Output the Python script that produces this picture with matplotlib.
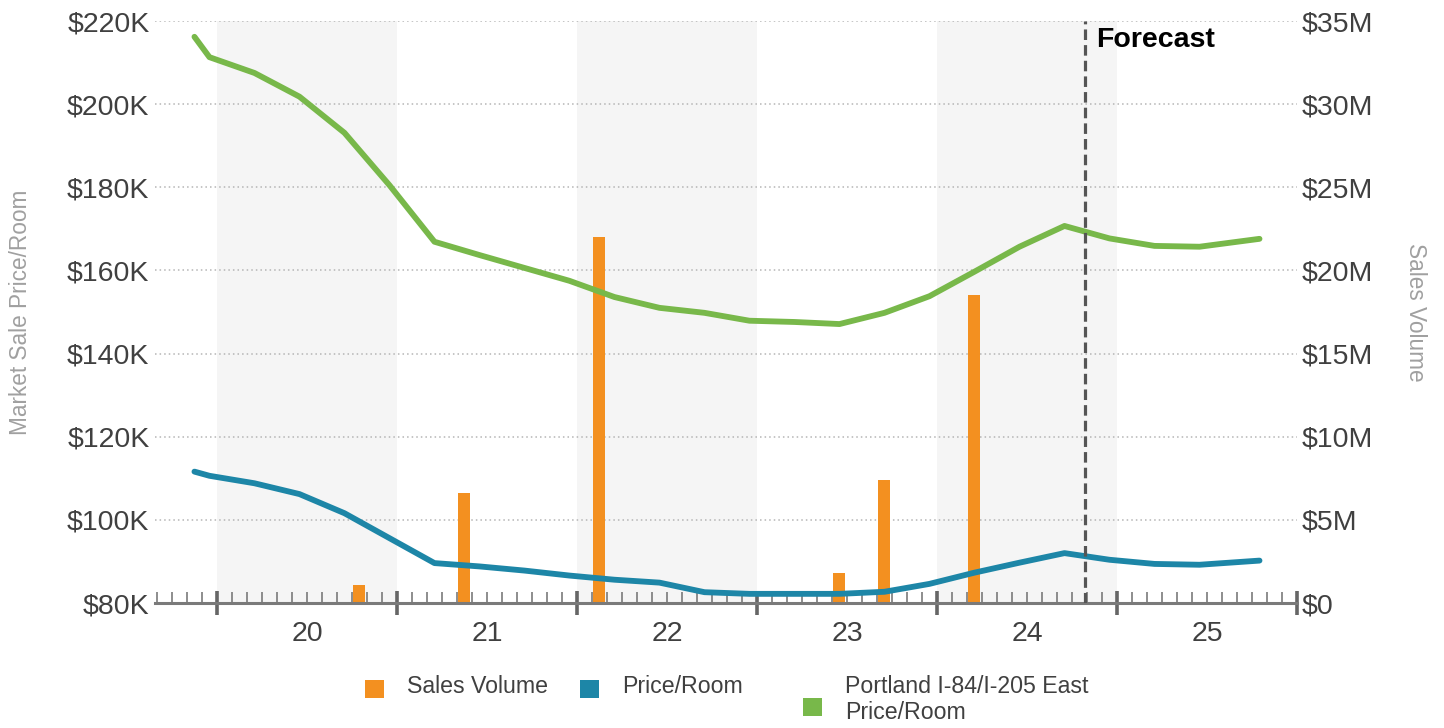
import matplotlib
matplotlib.use("Agg")
import matplotlib.pyplot as plt
import matplotlib.transforms as mtransforms
from matplotlib.patches import Rectangle
from matplotlib.ticker import FixedLocator, FuncFormatter

plt.rcParams['font.family'] = ['Liberation Sans', 'DejaVu Sans']

# x positions in months since Jan 2020
line_months = [-1.5, -0.5, 2.5, 5.5, 8.5, 11.5, 14.5, 17.5, 20.5, 23.5, 26.5, 29.5,
               32.5, 35.5, 38.5, 41.5, 44.5, 47.5, 50.5, 53.5, 56.5, 59.5, 62.5, 65.5, 69.5]

# Portland I-84/I-205 East Price/Room ($K)
submarket_price = [216.2, 211.3, 207.5, 201.8, 193.1, 180.5, 166.9, 163.7, 160.6, 157.5,
                   153.6, 151.0, 149.8, 147.9, 147.6, 147.1, 149.8, 153.8, 159.7, 165.7,
                   170.7, 167.7, 165.9, 165.7, 167.6]

# Price/Room ($K)
price_room = [111.6, 110.6, 108.8, 106.2, 101.6, 95.6, 89.6, 88.8, 87.8, 86.6,
              85.6, 84.9, 82.6, 82.2, 82.2, 82.2, 82.7, 84.6, 87.3, 89.7,
              92.0, 90.4, 89.4, 89.2, 90.2]

# Sales Volume ($M)
bar_months = [9.5, 16.5, 25.5, 41.5, 44.5, 50.5]
sales_volume = [1.1, 6.6, 22.0, 1.8, 7.4, 18.5]

years = ['20', '21', '22', '23', '24', '25']
year_starts = [0, 12, 24, 36, 48, 60]
forecast_month = 57.9

orange = '#F39020'
blue = '#1D86A7'
green = '#78B84A'
label_col = '#404040'
axis_col = '#7a7a7a'

fig = plt.figure(figsize=(14.44, 7.28), dpi=100)
ax2 = fig.add_axes([155 / 1444, 1 - 603 / 728, (1297 - 155) / 1444, (603 - 21) / 728])
ax = ax2.twinx()
ax.set_zorder(ax2.get_zorder() + 1)
ax.patch.set_visible(False)

xmin, xmax = -4.13, 72
ax2.set_xlim(xmin, xmax)
ax.set_xlim(xmin, xmax)

# shaded alternate years
for i, ys in enumerate(year_starts):
    if i % 2 == 0:
        ax2.axvspan(ys, ys + 12, color='#f5f5f5', lw=0, zorder=0)

# bars (right scale)
ax2.bar(bar_months, sales_volume, width=0.8, color=orange, zorder=2)
ax2.set_ylim(0, 35)
ax2.yaxis.tick_right()
ax2.yaxis.set_label_position('right')
ax2.set_yticks(range(0, 36, 5))
ax2.yaxis.set_major_formatter(FuncFormatter(lambda v, p: '$0' if v == 0 else f'${int(v)}M'))
ax2.set_ylabel('Sales Volume', color='#a0a0a0', fontsize=16.3, rotation=-90, labelpad=39)
ax2.grid(axis='y', color='#b5b5b5', linestyle=(0, (1, 2)), linewidth=1.1, zorder=1)
ax2.set_axisbelow(True)

# lines (left scale)
ax.plot(line_months, submarket_price, color=green, lw=4.2, solid_capstyle='round',
        solid_joinstyle='round', zorder=3)
ax.plot(line_months, price_room, color=blue, lw=4.2, solid_capstyle='round',
        solid_joinstyle='round', zorder=3)
ax.set_ylim(80, 220)
ax.yaxis.tick_left()
ax.yaxis.set_label_position('left')
ax.set_yticks(range(80, 221, 20))
ax.yaxis.set_major_formatter(FuncFormatter(lambda v, p: f'${int(v)}K'))
ax.set_ylabel('Market Sale Price/Room', color='#a0a0a0', fontsize=16.3, labelpad=25)

ax.axvline(forecast_month, color='#555555', lw=2.3, linestyle=(0, (3.3, 1.6)), zorder=4)
ax.text(forecast_month + 0.7, 215.5, 'Forecast', fontsize=20.5, fontweight='bold',
        color='black', va='center', ha='left')

for a in (ax, ax2):
    for s in a.spines.values():
        s.set_visible(False)
    a.tick_params(axis='y', length=0, labelsize=20.5, labelcolor=label_col)
ax.tick_params(axis='y', pad=4)
ax2.tick_params(axis='y', pad=3)

# x axis line and ticks
ax2.spines['bottom'].set_visible(True)
ax2.spines['bottom'].set_color(axis_col)
ax2.spines['bottom'].set_linewidth(2.2)
ax.tick_params(axis='x', which='both', bottom=False, labelbottom=False)
major = year_starts + [72]
minor = [m for m in range(-4, 73) if m not in major]
ax2.xaxis.set_major_locator(FixedLocator(major))
ax2.xaxis.set_minor_locator(FixedLocator(minor))
ax2.tick_params(axis='x', which='major', direction='inout', length=17, width=2.6,
                color='#666666', labelbottom=False)
ax2.tick_params(axis='x', which='minor', direction='in', length=8, width=1.2,
                color=axis_col)

trans = mtransforms.blended_transform_factory(ax2.transData, ax2.transAxes)
for ys, yl in zip(year_starts, years):
    ax2.text(ys + 6, -0.053, yl, transform=trans, ha='center', va='center',
             fontsize=20.5, color=label_col)

# legend
legend_items = [('Sales Volume', orange, 365, 688, 689),
                ('Price/Room', blue, 580, 688, 689),
                ('Portland I-84/I-205 East\nPrice/Room', green, 803, 688, 707)]
for text, col, px, ty, sy in legend_items:
    fig.add_artist(Rectangle((px / 1444, 1 - (sy + 9) / 728), 19 / 1444, 18 / 728,
                             transform=fig.transFigure, color=col, lw=0))
    fig.text((px + 42) / 1444, 1 - (ty - 13) / 728, text, fontsize=16.7, color=label_col,
             ha='left', va='top', linespacing=1.15)

fig.savefig('out.png', dpi=100)
